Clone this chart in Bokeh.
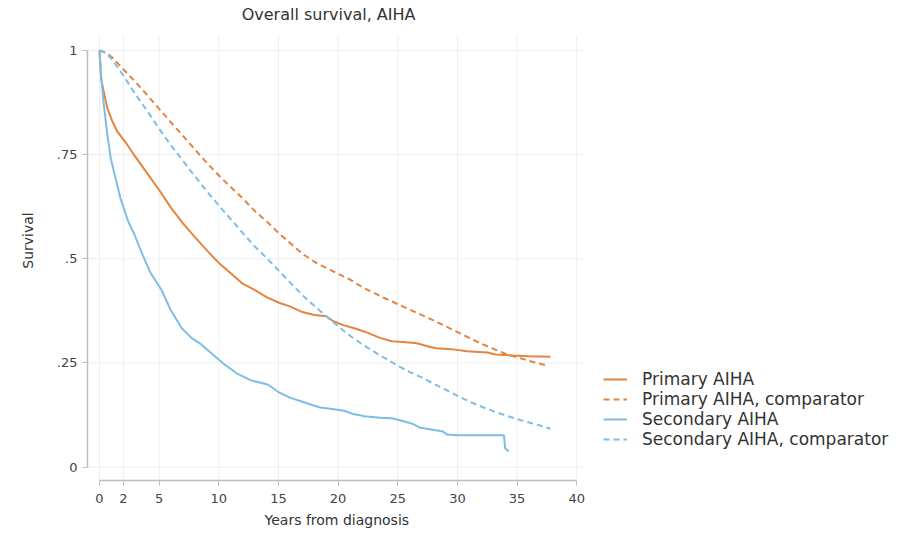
from bokeh.plotting import figure
from bokeh.models import FixedTicker, Legend, LegendItem, Range1d, Title, Label
from bokeh.embed import file_html
from bokeh.resources import INLINE

# ---- data ----
years_primary = [0, 0.15, 0.4, 0.65, 1.0, 1.5, 2.3, 3.0, 4.0, 5.0, 6.0, 7.0, 8.0, 9.0,
                 10.0, 11.0, 12.0, 13.0, 14.0, 15.0, 16.0, 17.0, 18.0, 19.0, 19.6, 20.5,
                 21.5, 22.5, 23.5, 24.5, 25.5, 26.6, 27.5, 28.2, 29.5, 30.8, 32.5, 33.2,
                 34.5, 36.0, 37.8]
surv_primary = [1.0, 0.93, 0.895, 0.862, 0.835, 0.805, 0.775, 0.745, 0.705, 0.665, 0.622,
                0.585, 0.552, 0.52, 0.49, 0.465, 0.44, 0.425, 0.408, 0.395, 0.385, 0.372,
                0.365, 0.362, 0.35, 0.34, 0.332, 0.322, 0.31, 0.302, 0.3, 0.297, 0.29,
                0.285, 0.283, 0.278, 0.275, 0.27, 0.268, 0.266, 0.265]

years_primary_comp = [0, 0.5, 1, 2, 3, 4, 5, 6, 7, 8, 9, 10, 11, 12, 13, 14, 15, 16, 17,
                      18, 19, 20, 21, 22, 24, 26, 28, 30, 32, 34, 36, 37.6]
surv_primary_comp = [1.0, 0.995, 0.985, 0.955, 0.925, 0.893, 0.86, 0.827, 0.795, 0.762,
                     0.73, 0.70, 0.672, 0.645, 0.615, 0.59, 0.562, 0.537, 0.512, 0.493,
                     0.478, 0.464, 0.45, 0.432, 0.404, 0.378, 0.352, 0.324, 0.296, 0.272,
                     0.255, 0.243]

years_secondary = [0, 0.1, 0.36, 0.65, 0.92, 1.2, 1.76, 2.4, 2.9, 3.6, 4.3, 5.2, 6.0, 6.9,
                   7.7, 8.5, 9.5, 10.4, 11.5, 12.7, 14.1, 15.0, 16.0, 16.9, 17.5, 18.5,
                   19.5, 20.5, 21.2, 22.2, 23.5, 24.5, 25.5, 26.3, 26.8, 27.8, 28.8, 29.1,
                   30.0, 33.9, 34.0, 34.3]
surv_secondary = [1.0, 0.95, 0.87, 0.80, 0.745, 0.71, 0.645, 0.59, 0.56, 0.51, 0.465, 0.425,
                  0.375, 0.333, 0.31, 0.295, 0.27, 0.248, 0.225, 0.208, 0.198, 0.18, 0.166,
                  0.158, 0.152, 0.143, 0.139, 0.135, 0.128, 0.122, 0.118, 0.117, 0.11,
                  0.103, 0.095, 0.09, 0.085, 0.078, 0.076, 0.076, 0.045, 0.037]

years_secondary_comp = [0, 0.5, 1, 2, 3, 4, 5, 6, 7, 8, 9, 10, 11, 12, 13, 14, 15, 16, 17,
                        18, 19, 20, 21, 22, 23, 24, 25, 26, 27, 28, 29, 30, 31, 32, 33, 34,
                        35, 36, 37, 37.8]
surv_secondary_comp = [1.0, 0.995, 0.98, 0.94, 0.895, 0.855, 0.812, 0.772, 0.735, 0.698,
                       0.662, 0.628, 0.595, 0.562, 0.53, 0.502, 0.472, 0.442, 0.413, 0.387,
                       0.362, 0.338, 0.315, 0.295, 0.277, 0.26, 0.243, 0.228, 0.215, 0.2,
                       0.186, 0.171, 0.157, 0.145, 0.134, 0.124, 0.115, 0.107, 0.099, 0.092]

series_labels = ["Primary AIHA", "Primary AIHA, comparator",
                 "Secondary AIHA", "Secondary AIHA, comparator"]
x_ticks = [0, 2, 5, 10, 15, 20, 25, 30, 35, 40]
y_ticks = [0, 0.25, 0.5, 0.75, 1]
y_tick_labels = ["0", ".25", ".5", ".75", "1"]
chart_title = "Overall survival, AIHA"
x_title = "Years from diagnosis"
y_title = "Survival"

# plot region (data units) inside a larger frame that also holds title and legend
X_START, X_PLOT_END, X_FRAME_END = -1.006, 40.57, 67.14
Y_START, Y_PLOT_END, Y_FRAME_END = -0.0324, 1.036, 1.12

ORANGE = "#E4843F"
BLUE = "#7DBDE6"
FONT = "DejaVu Sans"
TEXT = "#333333"
AXIS = "#BDBDBD"
GRID = "#EEEEEE"

p = figure(width=900, height=536, output_backend="svg", toolbar_location=None,
           x_range=Range1d(X_START, X_FRAME_END), y_range=Range1d(Y_START, Y_FRAME_END),
           min_border_left=87, min_border_right=0, min_border_top=0,
           min_border_bottom=56)
p.outline_line_color = None
p.background_fill_color = "white"
p.grid.visible = False

# grid lines limited to the plot region
p.segment(x0=x_ticks, x1=x_ticks, y0=[Y_START] * len(x_ticks),
          y1=[Y_PLOT_END] * len(x_ticks), line_color=GRID, line_width=1)
p.segment(x0=[X_START] * len(y_ticks), x1=[X_PLOT_END] * len(y_ticks), y0=y_ticks,
          y1=y_ticks, line_color=GRID, line_width=1)

# chart title (inside the top part of the frame)
p.add_layout(Label(x=19.2, y=1.0864, text=chart_title, text_align="center",
                   text_baseline="middle", text_font=FONT, text_font_size="16px",
                   text_color=TEXT))

# axes
p.xaxis.ticker = FixedTicker(ticks=x_ticks)
p.yaxis.ticker = FixedTicker(ticks=y_ticks)
p.yaxis.major_label_overrides = {t: l for t, l in zip(y_ticks, y_tick_labels)}
p.xaxis.bounds = (0, 40)
p.yaxis.bounds = (0, 1)
p.yaxis.axis_label = y_title
for ax in (p.xaxis, p.yaxis):
    ax.axis_line_color = AXIS
    ax.axis_line_width = 1.5
    ax.major_tick_line_color = AXIS
    ax.major_tick_in = 0
    ax.major_tick_out = 5
    ax.minor_tick_line_color = None
    ax.major_label_text_font = FONT
    ax.major_label_text_font_size = "13px"
    ax.major_label_text_color = "#444444"
    ax.axis_label_text_font = FONT
    ax.axis_label_text_font_size = "14px"
    ax.axis_label_text_font_style = "normal"
    ax.axis_label_text_color = TEXT
p.xaxis.major_label_standoff = 8
p.yaxis.major_label_standoff = 5
p.yaxis.axis_label_standoff = 18
p.yaxis.major_label_orientation = "horizontal"

xt = Title(text=x_title, align="left", offset=177, standoff=8)
xt.text_font = FONT
xt.text_font_size = "14px"
xt.text_font_style = "normal"
xt.text_color = TEXT
p.add_layout(xt, "below")

r1 = p.line(years_primary, surv_primary, line_color=ORANGE, line_width=2)
r2 = p.line(years_primary_comp, surv_primary_comp, line_color=ORANGE, line_width=2,
            line_dash="6 4")
r3 = p.line(years_secondary, surv_secondary, line_color=BLUE, line_width=2)
r4 = p.line(years_secondary_comp, surv_secondary_comp, line_color=BLUE, line_width=2,
            line_dash="6 4")

legend = Legend(items=[LegendItem(label=l, renderers=[r]) for l, r in
                       zip(series_labels, [r1, r2, r3, r4])],
                location=(516, 31), orientation="vertical")
legend.border_line_color = None
legend.background_fill_alpha = 0
legend.padding = 0
legend.margin = 0
legend.spacing = 0
legend.glyph_width = 24
legend.glyph_height = 20
legend.label_height = 20
legend.label_standoff = 15
legend.label_text_font = FONT
legend.label_text_font_size = "17px"
legend.label_text_color = TEXT
p.add_layout(legend, "center")

open("out.html", "w").write(file_html(p, INLINE))
